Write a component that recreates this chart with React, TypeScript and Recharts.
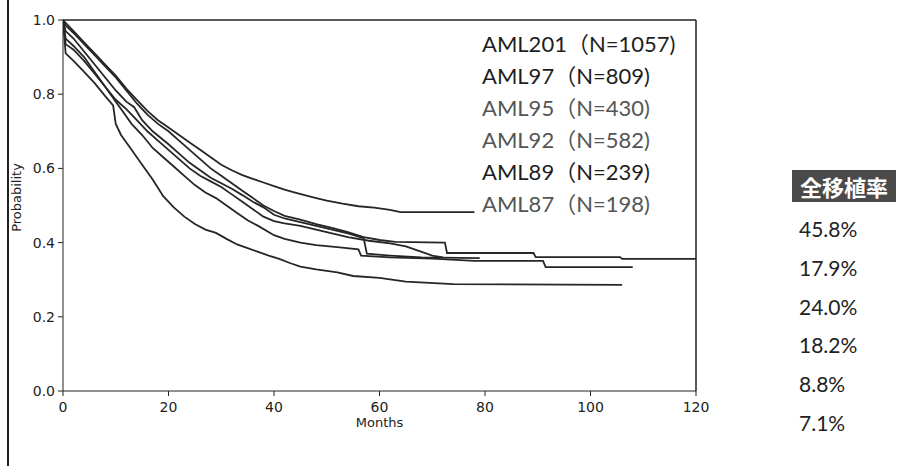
import React from 'react';
import { LineChart, Line, XAxis, YAxis, ReferenceLine } from 'recharts';

// ---- Data ----
const xTicks = [0, 20, 40, 60, 80, 100, 120];
const yTicks = [0, 0.2, 0.4, 0.6, 0.8, 1.0];

const aml201Months = [0, 2, 4, 6, 8, 10, 12, 14, 16, 18, 20, 22, 24, 26, 28, 30, 32, 34, 36, 38, 40, 42, 44, 46, 48, 50, 53, 56, 59, 62, 64, 78];
const aml201Prob = [1, 0.97, 0.94, 0.91, 0.88, 0.85, 0.815, 0.785, 0.755, 0.73, 0.71, 0.69, 0.67, 0.65, 0.63, 0.61, 0.595, 0.582, 0.572, 0.562, 0.552, 0.543, 0.535, 0.527, 0.52, 0.513, 0.505, 0.498, 0.494, 0.488, 0.482, 0.482];

const aml87Months = [0, 0.5, 2, 4, 6, 8, 10, 12, 14, 16, 18, 20, 22, 24, 26, 28, 30, 32, 34, 36, 38, 40, 42, 45, 48, 51, 54, 57, 60, 63, 72.4, 72.8, 89.2, 89.6, 105.6, 106, 120];
const aml87Prob = [1, 0.985, 0.965, 0.935, 0.905, 0.875, 0.845, 0.81, 0.775, 0.745, 0.72, 0.7, 0.675, 0.65, 0.625, 0.6, 0.58, 0.56, 0.54, 0.52, 0.5, 0.485, 0.472, 0.462, 0.45, 0.44, 0.428, 0.415, 0.407, 0.402, 0.4, 0.372, 0.372, 0.361, 0.361, 0.356, 0.356];

const aml97Months = [0, 0.5, 2, 4, 6, 8, 10, 12, 13.5, 15, 17, 20, 22, 24, 26, 28, 30, 32, 34, 36, 38, 40, 42, 45, 48, 51, 54, 57, 57.6, 62, 68, 79];
const aml97Prob = [1, 0.97, 0.95, 0.915, 0.88, 0.845, 0.81, 0.78, 0.765, 0.73, 0.7, 0.665, 0.64, 0.615, 0.595, 0.575, 0.56, 0.545, 0.528, 0.51, 0.495, 0.475, 0.465, 0.455, 0.445, 0.435, 0.425, 0.412, 0.37, 0.365, 0.36, 0.358];

const aml95Months = [0, 0.5, 2, 4, 6, 8, 10, 12, 14, 16, 18, 20, 22, 24, 26, 28, 30, 32, 34, 36, 38, 40, 42, 45, 48, 51, 54, 58, 62, 65, 68, 70, 72];
const aml95Prob = [1, 0.935, 0.92, 0.89, 0.855, 0.82, 0.785, 0.76, 0.73, 0.7, 0.675, 0.65, 0.625, 0.6, 0.58, 0.565, 0.55, 0.53, 0.51, 0.49, 0.47, 0.458, 0.452, 0.445, 0.435, 0.425, 0.415, 0.405, 0.398, 0.39, 0.375, 0.365, 0.36];

const aml92Months = [0, 0.5, 2, 4, 6, 8, 10, 11, 13, 15, 17, 19, 21, 23, 25, 27, 29, 31, 33, 35, 37, 40, 42, 45, 48, 52, 56, 56.5, 62, 70, 78, 91, 91.5, 108];
const aml92Prob = [1, 0.95, 0.93, 0.9, 0.86, 0.82, 0.78, 0.76, 0.72, 0.69, 0.655, 0.63, 0.605, 0.58, 0.555, 0.535, 0.52, 0.5, 0.48, 0.46, 0.445, 0.42, 0.41, 0.4, 0.393, 0.388, 0.382, 0.365, 0.36, 0.357, 0.351, 0.351, 0.334, 0.334];

const aml89Months = [0, 0.5, 2, 4, 6, 8, 9.5, 10, 11, 13, 15, 17, 19, 21, 23, 25, 27, 29, 31, 33, 35, 37, 39, 41, 43, 45, 48, 52, 55, 60, 65, 74, 106];
const aml89Prob = [1, 0.91, 0.89, 0.86, 0.83, 0.795, 0.77, 0.72, 0.69, 0.65, 0.61, 0.57, 0.525, 0.495, 0.47, 0.45, 0.435, 0.426, 0.41, 0.395, 0.385, 0.375, 0.365, 0.356, 0.345, 0.335, 0.328, 0.32, 0.31, 0.305, 0.295, 0.288, 0.286];

const legendLabels = ['AML201（N=1057)', 'AML97（N=809)', 'AML95（N=430)', 'AML92（N=582)', 'AML89（N=239)', 'AML87（N=198)'];
const legendColors = ['#1e1e1e', '#1e1e1e', '#555555', '#555555', '#1e1e1e', '#555555'];
const rateHeader = '全移植率';
const transplantRates = ['45.8%', '17.9%', '24.0%', '18.2%', '8.8%', '7.1%'];

const toSeries = (months: number[], probs: number[]) => months.map((m, i) => ({ month: m, prob: probs[i] }));

const series = [
  { name: 'AML201', data: toSeries(aml201Months, aml201Prob) },
  { name: 'AML87', data: toSeries(aml87Months, aml87Prob) },
  { name: 'AML97', data: toSeries(aml97Months, aml97Prob) },
  { name: 'AML95', data: toSeries(aml95Months, aml95Prob) },
  { name: 'AML92', data: toSeries(aml92Months, aml92Prob) },
  { name: 'AML89', data: toSeries(aml89Months, aml89Prob) },
];

const axisFont = { fontFamily: 'DejaVu Sans', fontSize: 14, fill: '#222' };
const textFont = "Lato, 'Noto Sans CJK JP', sans-serif";

const YLabel = (props: any) => {
  const vb = props.viewBox || {};
  const cx = 16;
  const cy = (vb.y ?? 20) + (vb.height ?? 371) / 2 - 8;
  return (
    <text x={cx} y={cy} transform={`rotate(-90, ${cx}, ${cy})`} textAnchor="middle" dominantBaseline="central" fontFamily="DejaVu Sans" fontSize={13} fill="#222">
      Probability
    </text>
  );
};

export default function App() {
  return (
    <div style={{ position: 'absolute', left: 0, top: 0, width: 915, height: 466, background: '#fff', overflow: 'hidden' }}>
      <div style={{ position: 'absolute', left: 7, top: 0, width: 2, height: 466, background: '#222' }} />
      <LineChart width={915} height={466} margin={{ top: 20, right: 219, bottom: 35, left: 13 }}>
        <XAxis
          dataKey="month"
          type="number"
          domain={[0, 120]}
          ticks={xTicks}
          allowDataOverflow
          height={40}
          tickSize={5}
          tickMargin={6}
          stroke="#222"
          tick={axisFont}
          label={{ value: 'Months', position: 'insideBottom', offset: 4, style: { fontFamily: 'DejaVu Sans', fontSize: 13, fill: '#222' } }}
        />
        <YAxis
          type="number"
          domain={[0, 1]}
          ticks={yTicks}
          width={50}
          tickSize={5}
          tickMargin={3}
          stroke="#222"
          tick={axisFont}
          tickFormatter={(v: number) => v.toFixed(1)}
          label={<YLabel />}
        />
        <ReferenceLine y={1} stroke="#222" strokeWidth={1.5} />
        <ReferenceLine x={120} stroke="#222" strokeWidth={1.5} />
        {series.map((s) => (
          <Line
            key={s.name}
            name={s.name}
            data={s.data}
            dataKey="prob"
            type="linear"
            dot={false}
            stroke="#262626"
            strokeWidth={1.8}
            isAnimationActive={false}
          />
        ))}
      </LineChart>
      {legendLabels.map((t, i) => (
        <div key={t} style={{ position: 'absolute', left: 482, top: 30 + i * 32, fontFamily: textFont, fontSize: 22, lineHeight: '28px', color: legendColors[i], whiteSpace: 'nowrap' }}>
          {t}
        </div>
      ))}
      <div style={{ position: 'absolute', left: 792, top: 170, width: 104, height: 32, background: '#4a4a4a', color: '#fff', fontFamily: "'Noto Sans CJK JP', sans-serif", fontWeight: 700, fontSize: 22, lineHeight: '32px', textAlign: 'center', whiteSpace: 'nowrap' }}>
        {rateHeader}
      </div>
      {transplantRates.map((r, i) => (
        <div key={r} style={{ position: 'absolute', left: 799, top: 215 + i * 38.8, fontFamily: textFont, fontSize: 21, lineHeight: '28px', color: '#222', whiteSpace: 'nowrap' }}>
          {r}
        </div>
      ))}
    </div>
  );
}
